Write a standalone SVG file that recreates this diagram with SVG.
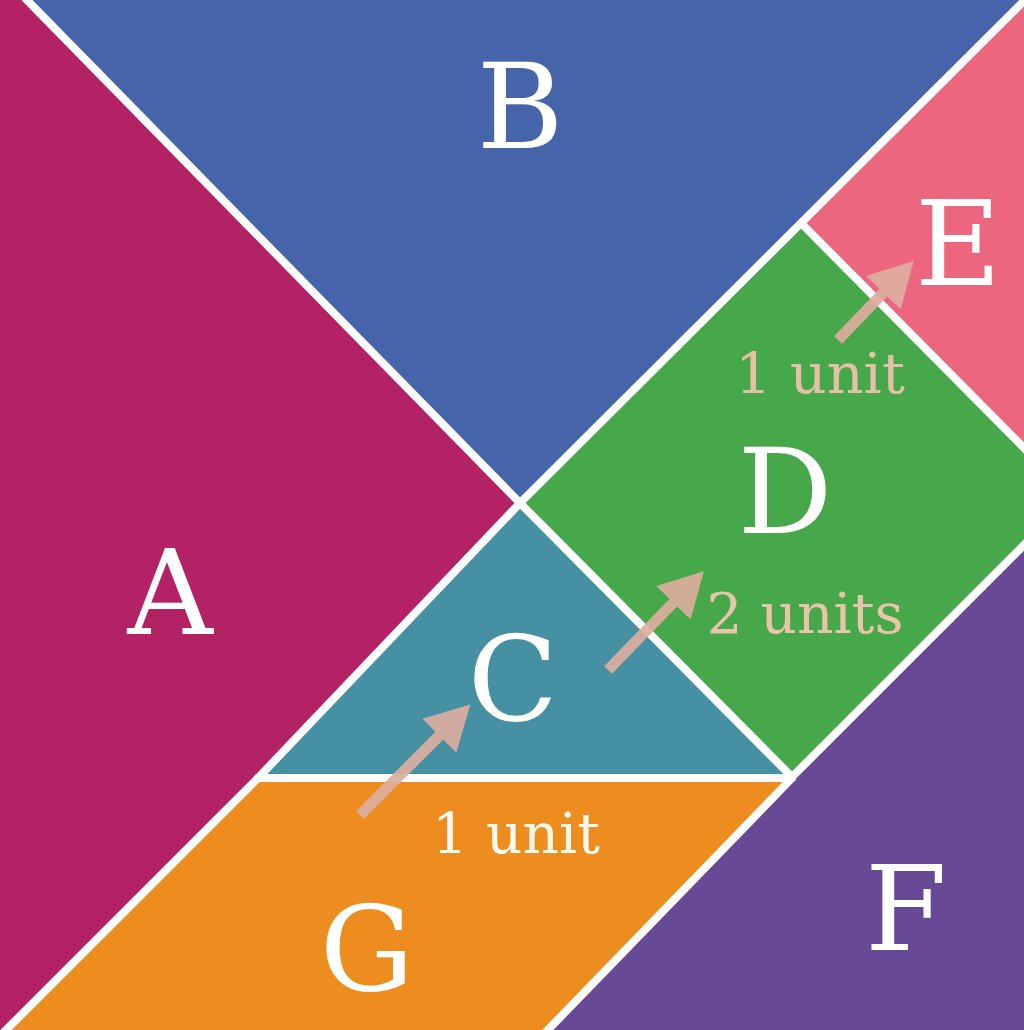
<svg xmlns="http://www.w3.org/2000/svg" width="1024" height="1030" viewBox="0 0 1024 1030">
  <defs>
    <style>
      .seam { stroke: #ffffff; stroke-width: 8; fill: none; stroke-linecap: round; }
      .letter { font-family: "DejaVu Serif", "Liberation Serif", serif; font-size: 118px; fill: #ffffff; text-anchor: middle; }
      .label { font-family: "DejaVu Serif", "Liberation Serif", serif; font-size: 56px; text-anchor: middle; }
      .arrow { stroke: #DDAE9F; stroke-width: 11; fill: none; opacity: 0.92; }
    </style>
    <marker id="head" markerUnits="userSpaceOnUse" markerWidth="50" markerHeight="50" refX="1" refY="24" orient="auto">
      <path d="M0,0 L44,24 L0,48 Z" fill="#DDAE9F"/>
    </marker>
  </defs>

  <g id="A"><polygon points="0,0 27,0 520,503 258,778 4,1030 0,1030" fill="#B42266"/><text class="letter" x="170" y="634">A</text></g>
  <g id="B"><polygon points="27,0 1025,0 520,503" fill="#4564AA"/><text class="letter" x="520" y="148">B</text></g>
  <g id="E"><polygon points="1024,0 801,223 1024,448" fill="#EC6680"/><text class="letter" x="958" y="285">E</text></g>
  <g id="D"><polygon points="801,223 1024,448 1024,545 792,777 520,503" fill="#46A84A"/><text class="letter" x="785" y="533">D</text></g>
  <g id="C"><polygon points="520,503 258,778 792,778" fill="#4590A3"/><text class="letter" x="513" y="720">C</text></g>
  <g id="G"><polygon points="258,778 792,778 546,1030 4,1030" fill="#EE8D1F"/><text class="letter" x="367" y="990">G</text></g>
  <g id="F"><polygon points="1024,545 792,777 546,1030 1024,1030" fill="#674996"/><text class="letter" x="906" y="950">F</text></g>

  <g id="seams">
    <line class="seam" x1="22" y1="-5" x2="520" y2="503"/>
    <line class="seam" x1="1030" y1="-5" x2="520" y2="503"/>
    <line class="seam" x1="801" y1="223" x2="1030" y2="454"/>
    <line class="seam" x1="1030" y1="539" x2="792" y2="777"/>
    <line class="seam" x1="520" y1="503" x2="792" y2="777"/>
    <line class="seam" x1="520" y1="503" x2="258" y2="778"/>
    <line class="seam" x1="258" y1="778" x2="0" y2="1036"/>
    <line class="seam" x1="258" y1="778" x2="792" y2="778"/>
    <line class="seam" x1="792" y1="778" x2="542" y2="1036"/>
  </g>

  <g id="connectors">
    <line class="arrow" x1="360" y1="815" x2="440" y2="735" marker-end="url(#head)"/>
    <line class="arrow" x1="608" y1="670" x2="674" y2="602" marker-end="url(#head)"/>
    <line class="arrow" x1="838" y1="340" x2="884" y2="292" marker-end="url(#head)"/>
  </g>

  <g id="labels">
    <text class="label" x="820" y="393" fill="#E3C0A6" textLength="170" lengthAdjust="spacingAndGlyphs">1 unit</text>
    <text class="label" x="805" y="633" fill="#E8C4A8" textLength="197" lengthAdjust="spacingAndGlyphs">2 units</text>
    <text class="label" x="516" y="853" fill="#FFF8EC" textLength="168" lengthAdjust="spacingAndGlyphs">1 unit</text>
  </g>
</svg>
